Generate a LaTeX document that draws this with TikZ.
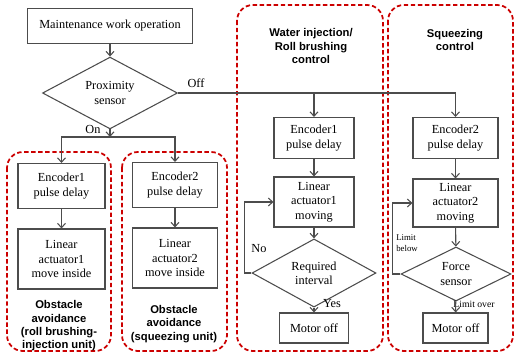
\documentclass[tikz,border=0pt]{standalone}
\usepackage{fontspec}
\setmainfont{Liberation Serif}
\setsansfont{Liberation Sans}
\usetikzlibrary{shapes.geometric,arrows.meta}

\begin{document}
\begin{tikzpicture}[x=0.02cm,y=-0.02cm,>={Straight Barb[length=2.5pt,width=4.5pt]},
    blk/.style={draw=black!70,line width=0.6pt,fill=white,align=center,inner sep=1pt,font=\fontsize{7}{8.2}\selectfont},
    dec/.style={draw=black!70,line width=0.6pt,fill=white,shape=diamond,align=center,inner sep=0pt,font=\fontsize{7}{8.2}\selectfont},
    grp/.style={draw=red!80!black,line width=1pt,dash pattern=on 2.5pt off 1.5pt,rounded corners=9pt},
    ttl/.style={align=center,font=\sffamily\bfseries\fontsize{6.4}{7.6}\selectfont},
    lbl/.style={inner sep=1pt,font=\fontsize{7}{8}\selectfont},
    flow/.style={->,draw=black!70,line width=0.6pt}]
    \useasboundingbox (0,0) rectangle (515,353);
    % dashed groups
    \draw[grp] (7,152) rectangle (111,351);
    \draw[grp] (122,152) rectangle (227,351);
    \draw[grp] (237,5) rectangle (383,351);
    \draw[grp] (388,5) rectangle (513,351);
    \node[ttl] (ttlA) at (59,326) {Obstacle\\avoidance\\(roll brushing-\\injection unit)};
    \node[ttl] (ttlB) at (174,324) {Obstacle\\avoidance\\(squeezing unit)};
    \node[ttl] (ttlC) at (311,46) {Water injection/\\Roll brushing\\control};
    \node[ttl] (ttlD) at (455,40) {Squeezing\\control};
    % main flow
    \node[blk,minimum width=3.3cm,minimum height=0.7cm] (top) at (110,26) {Maintenance work operation};
    \node[dec,minimum width=2.7cm,minimum height=1.2cm] (prox) at (110,93) {Proximity\\sensor};
    \coordinate (onj) at (110,137);
    \node[lbl] (off) at (196,83) {Off};
    \node[lbl] (on) at (93,129) {On};
    % obstacle avoidance
    \node[blk,minimum width=1.74cm,minimum height=0.9cm] (encA) at (61.5,186) {Encoder1\\pulse delay};
    \node[blk,minimum width=1.74cm,minimum height=1.2cm] (linA) at (61.5,259) {Linear\\actuator1\\move inside};
    \node[blk,minimum width=1.7cm,minimum height=0.9cm] (encB) at (175,185) {Encoder2\\pulse delay};
    \node[blk,minimum width=1.7cm,minimum height=1.2cm] (linB) at (175,258) {Linear\\actuator2\\move inside};
    % water injection / roll brushing
    \node[blk,minimum width=1.6cm,minimum height=0.82cm] (encC) at (314,138) {Encoder1\\pulse delay};
    \node[blk,minimum width=1.6cm,minimum height=1cm] (linC) at (314,202) {Linear\\actuator1\\moving};
    \node[dec,minimum width=2.48cm,minimum height=1cm] (req) at (314,273) {Required\\interval};
    \node[blk,minimum width=1.38cm,minimum height=0.6cm] (motC) at (314,328) {Motor off};
    \node[lbl] (no) at (259,249) {No};
    \node[lbl] (yes) at (332,304) {Yes};
    % squeezing
    \node[blk,minimum width=1.7cm,minimum height=0.82cm] (encD) at (455.5,138) {Encoder2\\pulse delay};
    \node[blk,minimum width=1.7cm,minimum height=0.96cm] (linD) at (455.5,203) {Linear\\actuator2\\moving};
    \node[dec,minimum width=2.2cm,minimum height=1cm] (force) at (456,274) {Force\\sensor};
    \node[blk,minimum width=1.3cm,minimum height=0.6cm] (motD) at (455.5,328) {Motor off};
    \node[lbl,align=left,font=\fontsize{5}{6}\selectfont] (below) at (407,243) {Limit\\below};
    \node[lbl,font=\fontsize{5.5}{6}\selectfont] (over) at (474,304) {Limit over};
    % connectors
    \draw[flow] (top) -- (prox);
    \draw[flow] (prox) -- (onj);
    \draw[flow] (onj) -| (encA);
    \draw[flow] (onj) -| (encB);
    \draw[flow] (encA) -- (linA);
    \draw[flow] (encB) -- (linB);
    \draw[flow] (prox.east) -| (encD);
    \draw[flow] (prox.east -| encC) -- (encC);
    \draw[flow] (encC) -- (linC);
    \draw[flow] (linC) -- (req);
    \draw[flow] (req) -- (motC);
    \draw[flow] (req.west) -- ++(-7,0) |- (linC.west);
    \draw[flow] (encD) -- (linD);
    \draw[flow] (linD) -- (force);
    \draw[flow] (force) -- (motD);
    \draw[flow] (force.west) -- ++(-8,0) |- (linD.west);
\end{tikzpicture}
\end{document}
